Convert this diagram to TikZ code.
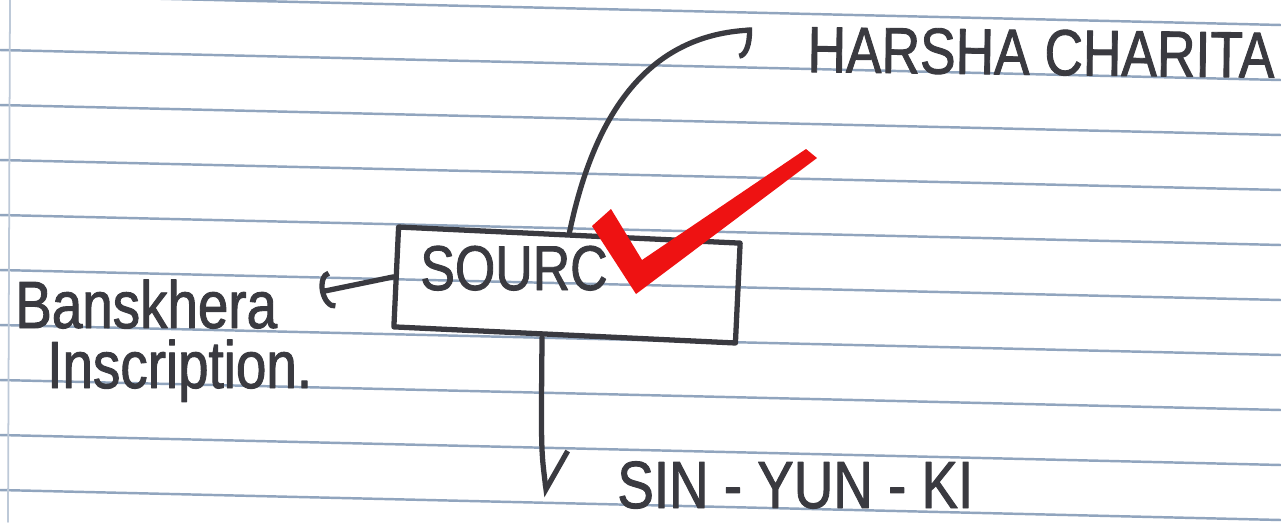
\documentclass[tikz,border=0pt]{standalone}
\usepackage{fontspec}
\setmainfont{Liberation Sans}[FakeStretch=0.82,FakeBold=1.4]
\usetikzlibrary{arrows.meta}
\definecolor{pencil}{RGB}{58,58,64}
\definecolor{ruling}{RGB}{145,165,190}
\definecolor{tickred}{RGB}{238,18,18}
\begin{document}
\begin{tikzpicture}
[x=0.02cm,y=-0.02cm,line cap=round,line join=round,
 every node/.style={text=pencil,inner sep=0pt},
 hand/.style={font=\fontsize{#1pt}{#1pt}\selectfont},
 ink/.style={draw=pencil,line width=3pt}]
\def \nlines {9}
\def \gap {55} % distance of the ruled lines, in pixels
\useasboundingbox (0,0) rectangle (1281,522);
\fill[white] (0,0) rectangle (1281,522);
\foreach \i in {0,...,\nlines}
{
  \draw[ruling,line width=1.4pt] (0,{\gap*\i-5}) -- (1281,{\gap*\i+25});
}
\draw[ruling!60,line width=1pt] (10,0) -- (8,522);
\node[ink,rotate=-2.7,minimum width=6.84cm,minimum height=2cm] (src) at (567,285) {};
\node[hand=36,anchor=base west] (srctext) at (420,290) {SOURC};
\node[hand=37,anchor=base west,rotate=-0.7] (harsha) at (807,72) {HARSHA CHARITA};
\node[hand=38,anchor=base west] (bansk) at (15,328) {Banskhera};
\node[hand=38,anchor=base west] (inscr) at (47,388) {Inscription.};
\node[hand=38,anchor=base west] (sinyun) at (617,508) {SIN - YUN - KI};
\coordinate (hcEnd) at (752,30);
\coordinate (bkEnd) at (320,292);
\coordinate (syEnd) at (547,497);
\draw[ink,-{Arc Barb[harpoon,swap,length=8pt,width=32pt]}] (src.north) .. controls (595,110) and (650,35) .. (hcEnd);
\draw[ink,-{Arc Barb[length=7pt,width=22pt]}] (src.west) -- (bkEnd);
\draw[ink,-{Straight Barb[harpoon,length=20pt,width=30pt]}] ([xshift=-0.45cm]src.south) .. controls (541,450) .. (syEnd);
\fill[tickred] (592,226) -- (611,209) -- (642,260) -- (806,149) -- (817,158) -- (636,294) -- cycle;
\end{tikzpicture}
\end{document}
